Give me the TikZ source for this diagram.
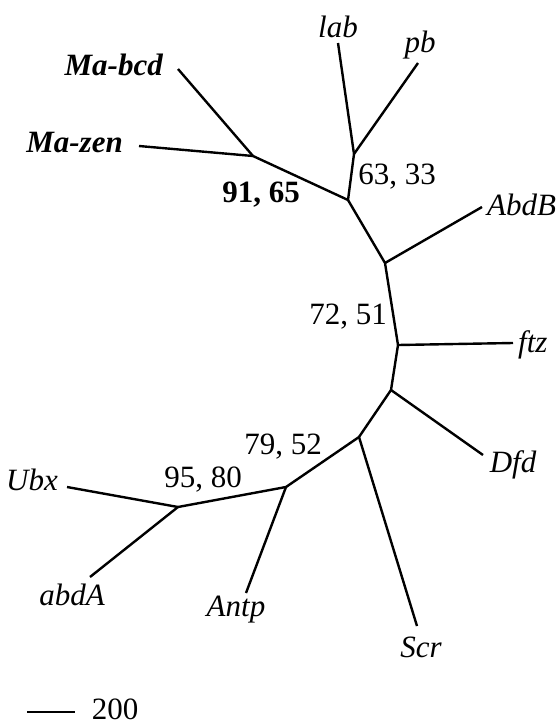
\documentclass[tikz,border=0pt]{standalone}
\usepackage{fontspec}
\setmainfont{Liberation Serif}
\begin{document}
\begin{tikzpicture}[x=1pt,y=-1pt,
    branch/.style={line width=2.4pt},
    taxon/.style={font=\fontsize{31}{36}\selectfont\itshape, inner sep=0pt},
    ingroup/.style={font=\fontsize{31}{36}\selectfont\bfseries\itshape, inner sep=0pt},
    boot/.style={font=\fontsize{31}{36}\selectfont, inner sep=0pt}]
  \useasboundingbox (0,0) rectangle (557,726);
  % internal nodes
  \coordinate (ma) at (253,156);
  \coordinate (bb) at (348,200);
  \coordinate (lp) at (354,154);
  \coordinate (dd) at (385,263);
  \coordinate (ee) at (398,345);
  \coordinate (ff) at (391,390);
  \coordinate (gg) at (359,437);
  \coordinate (hh) at (286,487);
  \coordinate (ua) at (178,507);
  % tips
  \coordinate (tbcd) at (178,69);
  \coordinate (tzen) at (139,146);
  \coordinate (tlab) at (338,43);
  \coordinate (tpb) at (418,63);
  \coordinate (tabdb) at (482,207);
  \coordinate (tftz) at (513,343);
  \coordinate (tdfd) at (483,455);
  \coordinate (tscr) at (417,626);
  \coordinate (tantp) at (246,593);
  \coordinate (tabda) at (90,577);
  \coordinate (tubx) at (67,487);
  % labels
  \node[ingroup, anchor=east] (bcd) at (163,65) {Ma-bcd};
  \node[ingroup, anchor=east] (zen) at (123,143) {Ma-zen};
  \node[taxon] (lab) at (338,27) {lab};
  \node[taxon] (pb) at (420,45) {pb};
  \node[taxon, anchor=west] (abdb) at (487,205) {AbdB};
  \node[taxon, anchor=west] (ftz) at (518,345) {ftz};
  \node[taxon] (dfd) at (513,465) {Dfd};
  \node[taxon] (scr) at (421,647) {Scr};
  \node[taxon] (antp) at (236,610) {Antp};
  \node[taxon] (abda) at (72,595) {abdA};
  \node[taxon, anchor=east] (ubx) at (58,480) {Ubx};
  % support values
  \node[boot, font=\fontsize{31}{36}\selectfont\bfseries] (s1) at (261,195) {91, 65};
  \node[boot] (s2) at (397,177) {63, 33};
  \node[boot] (s3) at (348,317) {72, 51};
  \node[boot] (s4) at (283,447) {79, 52};
  \node[boot] (s5) at (203,480) {95, 80};
  % backbone
  \draw[branch] (ma) -- (bb) -- (dd) -- (ee) -- (ff) -- (gg) -- (hh) -- (ua);
  \draw[branch] (bb) -- (lp);
  % terminal branches
  \draw[branch] (ma) -- (tbcd);
  \draw[branch] (ma) -- (tzen);
  \draw[branch] (lp) -- (tlab);
  \draw[branch] (lp) -- (tpb);
  \draw[branch] (dd) -- (tabdb);
  \draw[branch] (ee) -- (tftz);
  \draw[branch] (ff) -- (tdfd);
  \draw[branch] (gg) -- (tscr);
  \draw[branch] (hh) -- (tantp);
  \draw[branch] (ua) -- (tabda);
  \draw[branch] (ua) -- (tubx);
  % scale
  \coordinate (sa) at (27,712);
  \coordinate (sb) at (75,712);
  \draw[line width=1.6pt] (sa) -- (sb);
  \node[boot] (bar) at (115,709) {200};
\end{tikzpicture}
\end{document}
